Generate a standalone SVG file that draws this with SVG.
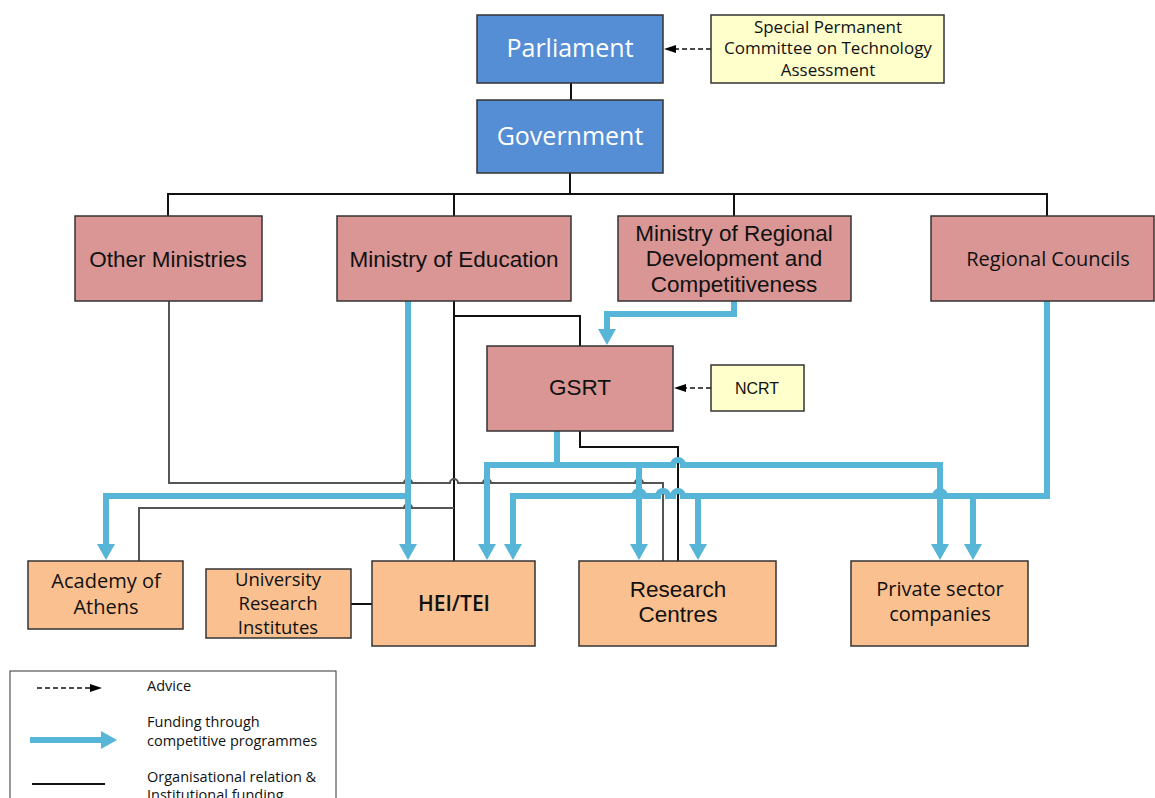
<svg xmlns="http://www.w3.org/2000/svg" width="1155" height="798" viewBox="0 0 1155 798">
<style>
.box{stroke:#333;stroke-width:1.5}
.gov{fill:#558ed5}
.min{fill:#d99694}
.adv{fill:#ffffcc}
.org{fill:#fac090}
.tw{font-family:"Open Sans","Liberation Sans",sans-serif;fill:#fff;font-size:25px;text-anchor:middle}
.ta{font-family:"Liberation Sans",Arial,sans-serif;fill:#111;font-size:22.5px;text-anchor:middle}
.tc{font-family:"Open Sans","Liberation Sans",sans-serif;fill:#111;font-size:20px;text-anchor:middle}
.tl{font-family:"Open Sans","Liberation Sans",sans-serif;fill:#111;font-size:14.5px}
.blk{fill:none;stroke:#111;stroke-width:2}
.gry{fill:none;stroke:#555;stroke-width:2}
.blu{fill:none;stroke:#57b5d8;stroke-width:6}
.dsh{fill:none;stroke:#111;stroke-width:1.5;stroke-dasharray:5 3}
</style>
<defs>
<marker id="ab" viewBox="0 0 16 18" markerUnits="userSpaceOnUse" markerWidth="16" markerHeight="18" refX="1" refY="9" orient="auto"><path d="M0,0 L16,9 L0,18 z" fill="#57b5d8"/></marker>
<marker id="ad" viewBox="0 0 12 8" markerUnits="userSpaceOnUse" markerWidth="12" markerHeight="8" refX="1" refY="4" orient="auto"><path d="M0,0 L12,4 L0,8 z" fill="#000"/></marker>
</defs>

<g id="connectors">
<path class="blk" d="M571,83 V100"/>
<path class="blk" d="M570,173 V194 M168,216 V194 H1047 V216 M454,194 V216 M734,194 V216"/>
<path class="dsh" marker-end="url(#ad)" d="M711,49 H675"/>
<path class="dsh" marker-end="url(#ad)" d="M711,388 H685"/>
<path class="blk" d="M454,301 V561"/>
<path class="blk" d="M454,316 H580 V346"/>
<path class="blk" d="M580,431 V447 H678 V561"/>
<path class="gry" d="M169,301 V483 H404 a4,4 0 0 1 8,0 H450 a4,4 0 0 1 8,0 H483 a4,4 0 0 1 8,0 H635 a4,4 0 0 1 8,0 H663 V561"/>
<path class="gry" d="M139,561 V508 H404 a4,4 0 0 1 8,0 H454"/>
<path class="blk" d="M351,604 H372"/>
<path class="blu" marker-end="url(#ab)" d="M408,301 V545"/>
<path class="blu" marker-end="url(#ab)" d="M408,496 H106 V545"/>
<path class="blu" marker-end="url(#ab)" d="M734,301 V314 H607 V330"/>
<path class="blu" marker-end="url(#ab)" d="M557,431 V465 H487 V545"/>
<path class="blu" marker-end="url(#ab)" d="M557,465 H673 a5,5 0 0 1 10,0 H940 V545"/>
<path class="blu" marker-end="url(#ab)" d="M639,465 V545"/>
<path class="blu" marker-end="url(#ab)" d="M1047,301 V496 H945 a5,5 0 0 0 -10,0 H683 a5,5 0 0 0 -10,0 H668 a5,5 0 0 0 -10,0 H644 a5,5 0 0 0 -10,0 H513 V545"/>
<path class="blu" marker-end="url(#ab)" d="M698,496 V545"/>
<path class="blu" marker-end="url(#ab)" d="M973,496 V545"/>
</g>

<g id="parliament"><rect class="box gov" x="477" y="15" width="186" height="68"/><text class="tw" x="570" y="57">Parliament</text></g>
<g id="government"><rect class="box gov" x="477" y="100" width="186" height="73"/><text class="tw" x="570" y="145">Government</text></g>
<g id="committee"><rect class="box adv" x="711" y="15" width="233" height="68"/>
<text class="tc" style="font-size:17px" x="828" y="33">Special Permanent</text>
<text class="tc" style="font-size:17px" x="828" y="54">Committee on Technology</text>
<text class="tc" style="font-size:17px" x="828" y="76">Assessment</text></g>
<g id="other-ministries"><rect class="box min" x="75" y="216" width="187" height="85"/><text class="ta" x="168" y="267">Other Ministries</text></g>
<g id="ministry-education"><rect class="box min" x="337" y="216" width="234" height="85"/><text class="ta" x="454" y="267">Ministry of Education</text></g>
<g id="ministry-regional"><rect class="box min" x="618" y="216" width="233" height="85"/>
<text class="ta" x="734" y="241">Ministry of Regional</text>
<text class="ta" x="734" y="266">Development and</text>
<text class="ta" x="734" y="292">Competitiveness</text></g>
<g id="regional-councils"><rect class="box min" x="931" y="216" width="223" height="85"/><text class="tc" x="1048" y="266">Regional Councils</text></g>
<g id="gsrt"><rect class="box min" x="487" y="346" width="186" height="85"/><text class="ta" x="580" y="395">GSRT</text></g>
<g id="ncrt"><rect class="box adv" x="711" y="365" width="93" height="46"/><text class="ta" style="font-size:16px" x="757" y="394">NCRT</text></g>
<g id="academy"><rect class="box org" x="28" y="561" width="155" height="68"/>
<text class="tc" x="106" y="588">Academy of</text>
<text class="tc" x="106" y="614">Athens</text></g>
<g id="uri"><rect class="box org" x="206" y="569" width="145" height="69"/>
<text class="tc" style="font-size:18.5px" x="278" y="586">University</text>
<text class="tc" style="font-size:18.5px" x="278" y="610">Research</text>
<text class="tc" style="font-size:18.5px" x="278" y="634">Institutes</text></g>
<g id="hei-tei"><rect class="box org" x="372" y="561" width="163" height="85"/><text class="tc" style="font-size:21px;font-weight:600" x="454" y="611">HEI/TEI</text></g>
<g id="research-centres"><rect class="box org" x="579" y="561" width="197" height="85"/>
<text class="ta" x="678" y="597">Research</text>
<text class="ta" x="678" y="622">Centres</text></g>
<g id="private-sector"><rect class="box org" x="851" y="561" width="177" height="85"/>
<text class="tc" x="940" y="596">Private sector</text>
<text class="tc" x="940" y="621">companies</text></g>

<g id="legend">
<rect x="10" y="671" width="326" height="140" fill="#fff" stroke="#333" stroke-width="1"/>
<path class="dsh" marker-end="url(#ad)" d="M37,688 H91"/>
<text class="tl" x="147" y="691">Advice</text>
<path class="blu" marker-end="url(#ab)" d="M30,740 H102"/>
<text class="tl" x="147" y="727">Funding through</text>
<text class="tl" x="147" y="746">competitive programmes</text>
<path class="blk" d="M32,784 H105"/>
<text class="tl" x="147" y="782">Organisational relation &amp;</text>
<text class="tl" x="147" y="800">Institutional funding</text>
</g>
</svg>
